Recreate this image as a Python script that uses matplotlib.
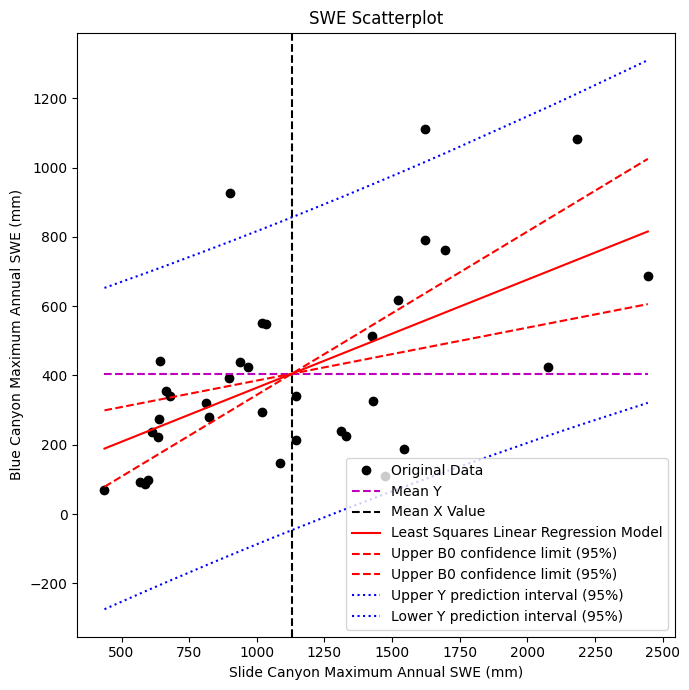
import matplotlib
matplotlib.use('Agg')
import matplotlib.pyplot as plt
import numpy as np

# Slide Canyon vs Blue Canyon maximum annual SWE (mm)
slide_swe = np.array([437, 570, 586, 598, 644, 666, 681, 640, 614, 633,
                      811, 822, 896, 937, 968, 1020, 1084, 1146, 1144, 900,
                      1021, 1034, 1620, 1523, 1426, 1431, 1312, 1328, 1545, 1620,
                      2183, 1694, 2445, 2076, 1472], dtype=float)
blue_swe = np.array([70, 91, 86, 99, 441, 355, 340, 275, 238, 221,
                     321, 281, 394, 438, 424, 294, 147, 342, 214, 927,
                     551, 548, 791, 619, 515, 326, 241, 224, 189, 1112,
                     1083, 761, 687, 424, 110], dtype=float)

t_crit = 2.0345  # t(0.975, df=33), slope limits
z_crit = 1.96    # prediction interval

n = len(slide_swe)
x_mean = slide_swe.mean()
y_mean = blue_swe.mean()
sxx = np.sum((slide_swe - x_mean) ** 2)
b1 = np.sum((slide_swe - x_mean) * (blue_swe - y_mean)) / sxx
b0 = y_mean - b1 * x_mean
resid = blue_swe - (b0 + b1 * slide_swe)
s = np.sqrt(np.sum(resid ** 2) / (n - 2))
se_b1 = s / np.sqrt(sxx)

xs = np.sort(slide_swe)
y_fit = b0 + b1 * xs
b1_up = b1 + t_crit * se_b1
b1_lo = b1 - t_crit * se_b1
y_up = y_mean + b1_up * (xs - x_mean)
y_lo = y_mean + b1_lo * (xs - x_mean)
pi = z_crit * s * np.sqrt(1 + 1 / n + (xs - x_mean) ** 2 / sxx)

fig, ax = plt.subplots(figsize=(6.89, 6.9), dpi=100)
fig.subplots_adjust(left=77.3 / 689, right=675 / 689, top=1 - 32.7 / 690, bottom=1 - 636.7 / 690)
ax.plot(slide_swe, blue_swe, 'ko', label='Original Data')
ax.plot(xs, np.full_like(xs, y_mean), 'm--', label='Mean Y')
ax.axvline(x_mean, color='k', linestyle='--', label='Mean X Value')
ax.plot(xs, y_fit, 'r-', label='Least Squares Linear Regression Model')
ax.plot(xs, y_up, 'r--', label='Upper B0 confidence limit (95%)')
ax.plot(xs, y_lo, 'r--', label='Upper B0 confidence limit (95%)')
ax.plot(xs, y_fit + pi, 'b:', label='Upper Y prediction interval (95%)')
ax.plot(xs, y_fit - pi, 'b:', label='Lower Y prediction interval (95%)')

ax.set_xlabel('Slide Canyon Maximum Annual SWE (mm)')
ax.set_ylabel('Blue Canyon Maximum Annual SWE (mm)')
ax.set_title('SWE Scatterplot')
ax.legend(loc='lower right')
fig.savefig('out.png')
